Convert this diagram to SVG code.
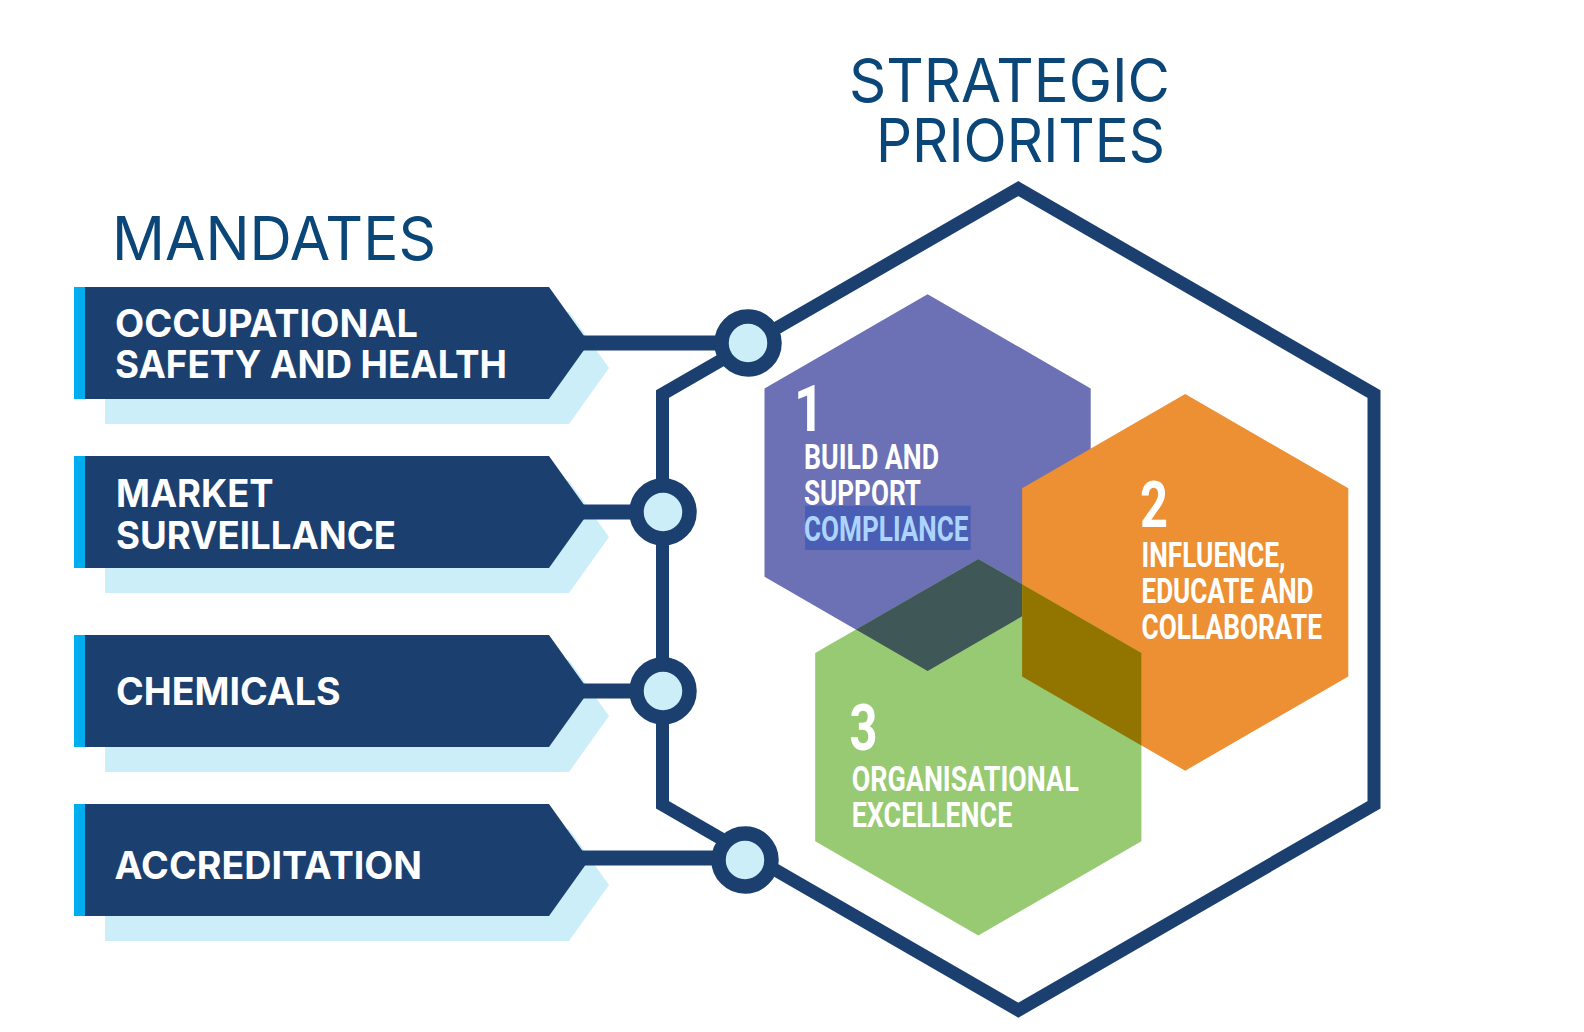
<svg xmlns="http://www.w3.org/2000/svg" width="1584" height="1032" viewBox="0 0 1584 1032">
<style>
.title{font-family:Inter,"Liberation Sans",sans-serif;font-weight:400;font-size:60px;fill:#0a4677}
.shadow{fill:#ccEEF9}
.stripe{fill:#00aeef}
.banner{fill:#1b4070}
.btext{font-family:Inter,"Liberation Sans",sans-serif;font-weight:700;font-size:38px;fill:#ffffff}
.conn{stroke:#1b4070;stroke-width:15;fill:none}
.frame{stroke:#1b4070;stroke-width:13;fill:none;stroke-linejoin:miter}
.junction{fill:#ccEEF9;stroke:#1b4070;stroke-width:14.5}
.htext{font-family:"Liberation Sans Narrow",Roboto,"Liberation Sans",sans-serif;font-weight:700;font-size:35px;fill:#ffffff}
.digit{font-family:"Liberation Sans Narrow",Roboto,"Liberation Sans",sans-serif;font-weight:700;font-size:64px;fill:#ffffff}
.hl{fill:#acd4ff}
</style>
<rect x="0" y="0" width="1584" height="1032" fill="#ffffff"/>

<g id="titles">
<text class="title" x="112" y="260" textLength="324" lengthAdjust="spacingAndGlyphs">MANDATES</text>
<text class="title"><tspan x="849" y="101.7" textLength="321" lengthAdjust="spacingAndGlyphs">STRATEGIC</tspan><tspan x="876" y="161.7" textLength="289" lengthAdjust="spacingAndGlyphs">PRIORITES</tspan></text>
</g>

<g id="mandate-osh">
<polygon class="shadow" points="105,312 569,312 609,368 569,424 105,424"/>
<rect class="stripe" x="74" y="287" width="12" height="112"/>
<polygon class="banner" points="85,287 549,287 589,343 549,399 85,399"/>
<text class="btext"><tspan x="115" y="336.7" textLength="303" lengthAdjust="spacingAndGlyphs">OCCUPATIONAL</tspan><tspan x="115" y="378.3" textLength="392" lengthAdjust="spacingAndGlyphs">SAFETY AND HEALTH</tspan></text>
</g>

<g id="mandate-market">
<polygon class="shadow" points="105,481 569,481 609,537 569,593 105,593"/>
<rect class="stripe" x="74" y="456" width="12" height="112"/>
<polygon class="banner" points="85,456 549,456 589,512 549,568 85,568"/>
<text class="btext"><tspan x="116" y="506.7" textLength="157.6" lengthAdjust="spacingAndGlyphs">MARKET</tspan><tspan x="116" y="549" textLength="280" lengthAdjust="spacingAndGlyphs">SURVEILLANCE</tspan></text>
</g>

<g id="mandate-chemicals">
<polygon class="shadow" points="105,660 569,660 609,716 569,772 105,772"/>
<rect class="stripe" x="74" y="635" width="12" height="112"/>
<polygon class="banner" points="85,635 549,635 589,691 549,747 85,747"/>
<text class="btext" x="116" y="705" textLength="224.6" lengthAdjust="spacingAndGlyphs">CHEMICALS</text>
</g>

<g id="mandate-accreditation">
<polygon class="shadow" points="105,829 569,829 609,885 569,941 105,941"/>
<rect class="stripe" x="74" y="804" width="12" height="112"/>
<polygon class="banner" points="85,804 549,804 589,860 549,916 85,916"/>
<text class="btext" x="114.6" y="879" textLength="307.4" lengthAdjust="spacingAndGlyphs">ACCREDITATION</text>
</g>

<g id="connectors">
<line class="conn" x1="578" y1="343" x2="748" y2="343"/>
<line class="conn" x1="578" y1="512" x2="663" y2="512"/>
<line class="conn" x1="578" y1="691" x2="663" y2="691"/>
<line class="conn" x1="578" y1="858" x2="745" y2="858"/>
</g>

<g id="frame">
<polygon class="frame" points="1018.3,188.6 1374,394 1374,804.8 1018.3,1010.2 662.5,804.8 662.5,394"/>
</g>

<g id="junctions">
<circle class="junction" cx="748" cy="343" r="26.5"/>
<circle class="junction" cx="663" cy="512" r="26.5"/>
<circle class="junction" cx="663" cy="691" r="26.5"/>
<circle class="junction" cx="745" cy="860" r="26.5"/>
</g>

<g id="priority-1">
<polygon fill="#6c70b4" points="927.6,294.3 1090.7,388.45 1090.7,576.75 927.6,670.9 764.5,576.75 764.5,388.45"/>
</g>
<g id="priority-2">
<polygon fill="#ec9033" points="1185.2,394.1 1348.3,488.25 1348.3,676.55 1185.2,770.7 1022.1,676.55 1022.1,488.25"/>
</g>
<g id="priority-3">
<polygon fill="#97ca72" points="978.3,558.9 1141.4,653.05 1141.4,841.35 978.3,935.5 815.2,841.35 815.2,653.05"/>
<polygon fill="#3f5857" points="978.3,558.9 1022.1,584.19 1022.1,616.34 927.6,670.9 855.94,629.54"/>
<polygon fill="#917500" points="1022.1,584.19 1141.4,653.05 1141.4,745.43 1022.1,676.55"/>
</g>

<g id="priority-1-text">
<rect x="805" y="505.7" width="165.7" height="44.3" fill="#4a5eb4"/>
<text class="htext"><tspan class="digit" x="794" y="431" textLength="30" lengthAdjust="spacingAndGlyphs">1</tspan><tspan x="804" y="468.7" textLength="135" lengthAdjust="spacingAndGlyphs">BUILD AND</tspan><tspan x="804" y="504.7" textLength="117" lengthAdjust="spacingAndGlyphs">SUPPORT</tspan><tspan class="hl" x="804" y="541.3" textLength="164.5" lengthAdjust="spacingAndGlyphs">COMPLIANCE</tspan></text>
</g>

<g id="priority-2-text">
<text class="htext"><tspan class="digit" x="1140" y="526.7" textLength="28" lengthAdjust="spacingAndGlyphs">2</tspan><tspan x="1141.5" y="567.3" textLength="144" lengthAdjust="spacingAndGlyphs">INFLUENCE,</tspan><tspan x="1141.5" y="603.3" textLength="172" lengthAdjust="spacingAndGlyphs">EDUCATE AND</tspan><tspan x="1141.5" y="639.3" textLength="180.5" lengthAdjust="spacingAndGlyphs">COLLABORATE</tspan></text>
</g>

<g id="priority-3-text">
<text class="htext"><tspan class="digit" x="849.5" y="750" textLength="28" lengthAdjust="spacingAndGlyphs">3</tspan><tspan x="851.7" y="790.7" textLength="227" lengthAdjust="spacingAndGlyphs">ORGANISATIONAL</tspan><tspan x="851.7" y="827.3" textLength="160.6" lengthAdjust="spacingAndGlyphs">EXCELLENCE</tspan></text>
</g>
</svg>
